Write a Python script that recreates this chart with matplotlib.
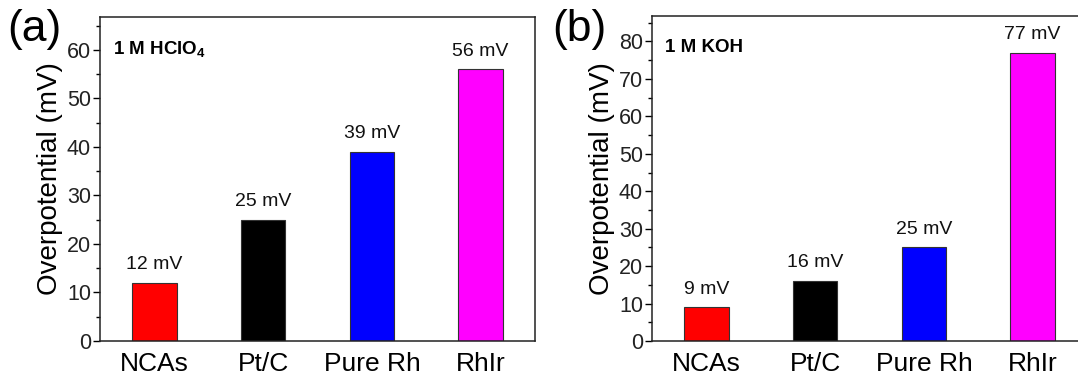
import matplotlib
matplotlib.use("Agg")
import matplotlib.pyplot as plt
from matplotlib.ticker import MultipleLocator

plt.rcParams['font.family'] = ['Liberation Sans', 'DejaVu Sans']
plt.rcParams['mathtext.fontset'] = 'custom'
plt.rcParams['mathtext.rm'] = 'Liberation Sans'
plt.rcParams['mathtext.bf'] = 'Liberation Sans:bold'

categories = ["NCAs", "Pt/C", "Pure Rh", "RhIr"]
values_a = [12, 25, 39, 56]
values_b = [9, 16, 25, 77]
labels_a = ["12 mV", "25 mV", "39 mV", "56 mV"]
labels_b = ["9 mV", "16 mV", "25 mV", "77 mV"]
colors = ["#ff0000", "#000000", "#0000ff", "#ff00ff"]

W, H = 1078, 381
fig = plt.figure(figsize=(W / 100, H / 100), dpi=100)


def make_panel(rect, values, labels, ylim, major, electrolyte, letter, letter_x):
    ax = fig.add_axes(rect)
    x = list(range(1, len(categories) + 1))
    ax.bar(x, values, width=0.41, color=colors, edgecolor="#333333", linewidth=0.8, zorder=2)
    for xi, v, lab in zip(x, values, labels):
        ax.annotate(lab, (xi, v), xytext=(0, 7), textcoords="offset points",
                    ha="center", va="bottom", fontsize=14, color="#111111")
    ax.set_xlim(0.5, 4.5)
    ax.set_ylim(*ylim)
    ax.set_xticks(x)
    ax.set_xticklabels(categories, fontsize=19)
    ax.tick_params(axis="x", length=0, pad=8)
    ax.yaxis.set_major_locator(MultipleLocator(major))
    ax.yaxis.set_minor_locator(MultipleLocator(major / 2))
    ax.tick_params(axis="y", which="major", direction="out", length=5, width=1,
                   labelsize=15.5, pad=1.5, labelcolor="#222222")
    ax.tick_params(axis="y", which="minor", direction="out", length=3, width=1)
    for s in ax.spines.values():
        s.set_linewidth(1.1)
        s.set_color("#222222")
    ax.set_ylabel("Overpotential (mV)", fontsize=20, labelpad=3)
    ax.text(0.03, 0.93, electrolyte, transform=ax.transAxes, fontsize=13.5,
            fontweight="bold", ha="left", va="top")
    fig.text(letter_x, 1 - 30 / H, letter, fontsize=32, ha="left", va="center")
    return ax


make_panel([100 / W, 1 - 341 / H, 435 / W, 324 / H], values_a, labels_a,
           (0, 66.8), 10, "1 M HClO$_\\mathbf{4}$", "(a)", 7 / W)
make_panel([652 / W, 1 - 341 / H, 435 / W, 325 / H], values_b, labels_b,
           (0, 86.8), 10, "1 M KOH", "(b)", 552 / W)

fig.savefig("out.png", dpi=100)
